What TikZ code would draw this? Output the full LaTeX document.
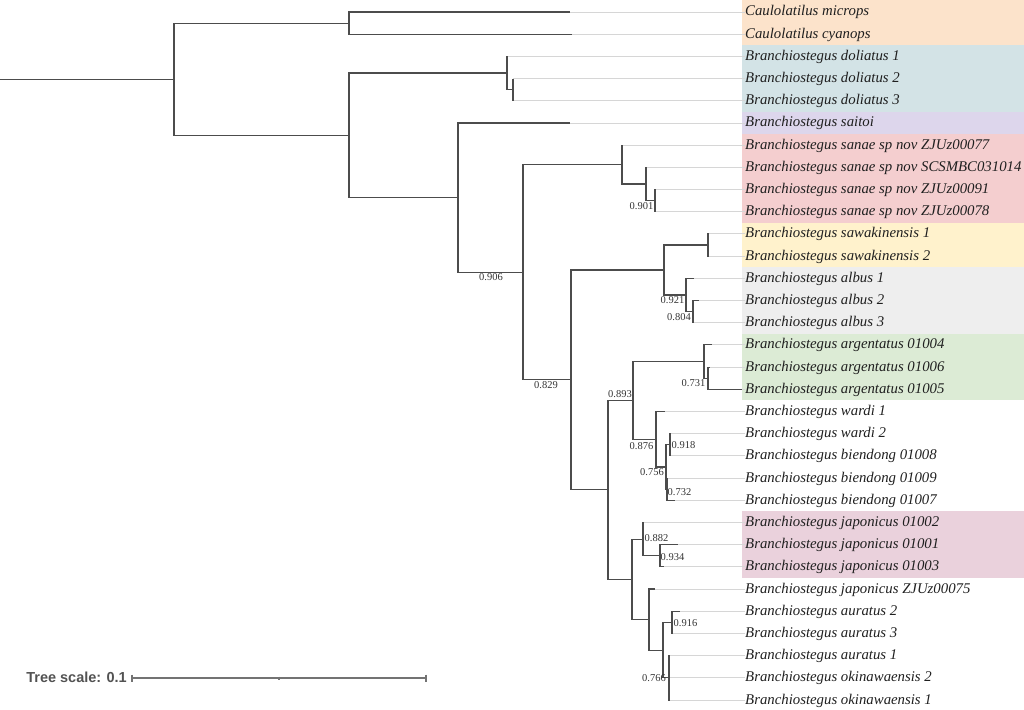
\documentclass[tikz,border=0pt]{standalone}
\usepackage{xcolor}
\usepackage{fontspec}
\setmainfont{Liberation Serif}
\newfontfamily\scalefont{Liberation Sans}
\usepackage{tikz}
\usetikzlibrary{positioning, calc}

\definecolor{caulbg}{HTML}{FCE3CB}
\definecolor{dolbg}{HTML}{D3E3E6}
\definecolor{saibg}{HTML}{DDD6EC}
\definecolor{sanbg}{HTML}{F4CECF}
\definecolor{sawbg}{HTML}{FFF2CC}
\definecolor{albbg}{HTML}{EEEEEE}
\definecolor{argbg}{HTML}{DCEBD5}
\definecolor{japbg}{HTML}{EAD1DC}

\begin{document}
\begin{tikzpicture}[
    x=1pt, y=-1pt,
    branch/.style={draw=black!70, line width=1.1pt},
    ext/.style={draw=black!16, line width=0.9pt},
    taxon/.style={anchor=west, inner sep=0pt, text height=11pt, text depth=3pt, font=\fontsize{14.8}{16}\selectfont\itshape, text=black!88},
    boot/.style={inner sep=0pt, font=\fontsize{10.5}{12}\selectfont, text=black!80},
    band/.style={draw=none},
    scalebar/.style={draw=black!55, line width=1.1pt}
]
\useasboundingbox (0,0) rectangle (1024,709);

% Colour bands
\fill[band, caulbg] (742,0) rectangle (1024,45.3);
\fill[band, dolbg] (742,45.3) rectangle (1024,111.9);
\fill[band, saibg] (742,111.9) rectangle (1024,134.1);
\fill[band, sanbg] (742,134.1) rectangle (1024,222.8);
\fill[band, sawbg] (742,222.8) rectangle (1024,267.2);
\fill[band, albbg] (742,267.2) rectangle (1024,333.8);
\fill[band, argbg] (742,333.8) rectangle (1024,400.4);
\fill[band, japbg] (742,511.4) rectangle (1024,577.9);

% Taxa
\node[taxon] (l0) at (745,12) {Caulolatilus microps};
\node[taxon] (l1) at (745,34.19) {Caulolatilus cyanops};
\node[taxon] (l2) at (745,56.39) {Branchiostegus doliatus 1};
\node[taxon] (l3) at (745,78.58) {Branchiostegus doliatus 2};
\node[taxon] (l4) at (745,100.77) {Branchiostegus doliatus 3};
\node[taxon] (l5) at (745,122.97) {Branchiostegus saitoi};
\node[taxon] (l6) at (745,145.16) {Branchiostegus sanae sp nov ZJUz00077};
\node[taxon] (l7) at (745,167.35) {Branchiostegus sanae sp nov SCSMBC031014};
\node[taxon] (l8) at (745,189.55) {Branchiostegus sanae sp nov ZJUz00091};
\node[taxon] (l9) at (745,211.74) {Branchiostegus sanae sp nov ZJUz00078};
\node[taxon] (l10) at (745,233.94) {Branchiostegus sawakinensis 1};
\node[taxon] (l11) at (745,256.13) {Branchiostegus sawakinensis 2};
\node[taxon] (l12) at (745,278.32) {Branchiostegus albus 1};
\node[taxon] (l13) at (745,300.52) {Branchiostegus albus 2};
\node[taxon] (l14) at (745,322.71) {Branchiostegus albus 3};
\node[taxon] (l15) at (745,344.90) {Branchiostegus argentatus 01004};
\node[taxon] (l16) at (745,367.10) {Branchiostegus argentatus 01006};
\node[taxon] (l17) at (745,389.29) {Branchiostegus argentatus 01005};
\node[taxon] (l18) at (745,411.48) {Branchiostegus wardi 1};
\node[taxon] (l19) at (745,433.68) {Branchiostegus wardi 2};
\node[taxon] (l20) at (745,455.87) {Branchiostegus biendong 01008};
\node[taxon] (l21) at (745,478.06) {Branchiostegus biendong 01009};
\node[taxon] (l22) at (745,500.26) {Branchiostegus biendong 01007};
\node[taxon] (l23) at (745,522.45) {Branchiostegus japonicus 01002};
\node[taxon] (l24) at (745,544.65) {Branchiostegus japonicus 01001};
\node[taxon] (l25) at (745,566.84) {Branchiostegus japonicus 01003};
\node[taxon] (l26) at (745,589.03) {Branchiostegus japonicus ZJUz00075};
\node[taxon] (l27) at (745,611.23) {Branchiostegus auratus 2};
\node[taxon] (l28) at (745,633.42) {Branchiostegus auratus 3};
\node[taxon] (l29) at (745,655.61) {Branchiostegus auratus 1};
\node[taxon] (l30) at (745,677.81) {Branchiostegus okinawaensis 2};
\node[taxon] (l31) at (745,700) {Branchiostegus okinawaensis 1};

% Tips
\coordinate (t0) at (570,12);
\coordinate (t1) at (572,34.19);
\coordinate (t2) at (507,56.39);
\coordinate (t3) at (513,78.58);
\coordinate (t4) at (513,100.77);
\coordinate (t5) at (570,122.97);
\coordinate (t6) at (622,145.16);
\coordinate (t7) at (647,167.35);
\coordinate (t8) at (656,189.55);
\coordinate (t9) at (656,211.74);
\coordinate (t10) at (709,233.94);
\coordinate (t11) at (709,256.13);
\coordinate (t12) at (694,278.32);
\coordinate (t13) at (699,300.52);
\coordinate (t14) at (694,322.71);
\coordinate (t15) at (712,344.90);
\coordinate (t16) at (710,367.10);
\coordinate (t17) at (742,389.29);
\coordinate (t18) at (665,411.48);
\coordinate (t19) at (671,433.68);
\coordinate (t20) at (671,455.87);
\coordinate (t21) at (668,478.06);
\coordinate (t22) at (675,500.26);
\coordinate (t23) at (644,522.45);
\coordinate (t24) at (678,544.65);
\coordinate (t25) at (664,566.84);
\coordinate (t26) at (655,589.03);
\coordinate (t27) at (680,611.23);
\coordinate (t28) at (673,633.42);
\coordinate (t29) at (670,655.61);
\coordinate (t30) at (670,677.81);
\coordinate (t31) at (670,700);

% Inner nodes
\coordinate (stem) at (0,79.2);
\coordinate (root) at (174,79.2);
\coordinate (caul) at (349,23.1);
\coordinate (bran) at (349,135.3);
\coordinate (dol) at (507,73.03);
\coordinate (dolb) at (513,89.68);
\coordinate (cla) at (458,197.6);
\coordinate (n906) at (523,272.26);
\coordinate (san) at (622,164.58);
\coordinate (sanb) at (646,184.0);
\coordinate (n901) at (655,200.65);
\coordinate (n829) at (571,379.93);
\coordinate (n921) at (664,270.0);
\coordinate (saw) at (708,245.04);
\coordinate (alb) at (686,294.97);
\coordinate (n804) at (693,311.62);
\coordinate (h0) at (608,489.86);
\coordinate (n893) at (633,400.39);
\coordinate (arg) at (704,361.55);
\coordinate (n731) at (708,378.2);
\coordinate (n876) at (656,439.23);
\coordinate (n756) at (666,466.97);
\coordinate (n918) at (670,444.78);
\coordinate (n732) at (667,489.16);
\coordinate (jj) at (632,579.33);
\coordinate (n882) at (643,539.1);
\coordinate (n934) at (660,555.75);
\coordinate (kk) at (649,619.55);
\coordinate (kk2) at (663,650.07);
\coordinate (n916) at (672,622.33);
\coordinate (n766) at (669,677.81);

% Label guides
\foreach \i in {0,...,31}
    \draw[ext] (t\i) -- (l\i);

% Branches
\draw[branch] (stem) -- (root);
\draw[branch] (root) |- (caul) (root) |- (bran);
\draw[branch] (caul) |- (t0) (caul) |- (t1);
\draw[branch] (bran) |- (dol) (bran) |- (cla);
\draw[branch] (dol) |- (t2) (dol) |- (dolb);
\draw[branch] (dolb) |- (t3) (dolb) |- (t4);
\draw[branch] (cla) |- (t5) (cla) |- (n906);
\draw[branch] (n906) |- (san) (n906) |- (n829);
\draw[branch] (san) |- (t6) (san) |- (sanb);
\draw[branch] (sanb) |- (t7) (sanb) |- (n901);
\draw[branch] (n901) |- (t8) (n901) |- (t9);
\draw[branch] (n829) |- (n921) (n829) |- (h0);
\draw[branch] (n921) |- (saw) (n921) |- (alb);
\draw[branch] (saw) |- (t10) (saw) |- (t11);
\draw[branch] (alb) |- (t12) (alb) |- (n804);
\draw[branch] (n804) |- (t13) (n804) |- (t14);
\draw[branch] (h0) |- (n893) (h0) |- (jj);
\draw[branch] (n893) |- (arg) (n893) |- (n876);
\draw[branch] (arg) |- (t15) (arg) |- (n731);
\draw[branch] (n731) |- (t16) (n731) |- (t17);
\draw[branch] (n876) |- (t18) (n876) |- (n756);
\draw[branch] (n756) |- (n918) (n756) |- (n732);
\draw[branch] (n918) |- (t19) (n918) |- (t20);
\draw[branch] (n732) |- (t21) (n732) |- (t22);
\draw[branch] (jj) |- (n882) (jj) |- (kk);
\draw[branch] (n882) |- (t23) (n882) |- (n934);
\draw[branch] (n934) |- (t24) (n934) |- (t25);
\draw[branch] (kk) |- (t26) (kk) |- (kk2);
\draw[branch] (kk2) |- (n916) (kk2) |- (n766);
\draw[branch] (n916) |- (t27) (n916) |- (t28);
\draw[branch] (n766) |- (t29) (n766) |- (t30) (n766) |- (t31);

% Support values
\node[boot] (b906) at (491,277) {0.906};
\node[boot] (b901) at (641.5,206) {0.901};
\node[boot] (b829) at (546,385) {0.829};
\node[boot] (b921) at (672.5,300) {0.921};
\node[boot] (b804) at (679,317) {0.804};
\node[boot] (b731) at (693.5,383) {0.731};
\node[boot] (b893) at (620,394) {0.893};
\node[boot] (b876) at (641.5,446) {0.876};
\node[boot] (b918) at (683.5,445) {0.918};
\node[boot] (b756) at (652,472) {0.756};
\node[boot] (b732) at (679.5,492) {0.732};
\node[boot] (b882) at (656.5,538) {0.882};
\node[boot] (b934) at (672.5,557) {0.934};
\node[boot] (b916) at (685.5,623) {0.916};
\node[boot] (b766) at (654,678) {0.766};

% Scale bar
\coordinate (sb0) at (132,678);
\coordinate (sbm) at (279,678);
\coordinate (sb1) at (426,678);
\node[anchor=east, inner sep=0pt, text=black!68, font=\scalefont\bfseries\fontsize{14.5}{16}\selectfont] (scalelbl) at (127,677) {Tree scale: 0.1};
\draw[scalebar] (sb0) -- (sb1);
\draw[scalebar] ([yshift=3.5pt]sb0) -- ([yshift=-3.5pt]sb0);
\draw[scalebar] ([yshift=3.5pt]sb1) -- ([yshift=-3.5pt]sb1);
\draw[scalebar] ([yshift=1.5pt]sbm) -- ([yshift=-1.5pt]sbm);

\end{tikzpicture}
\end{document}
